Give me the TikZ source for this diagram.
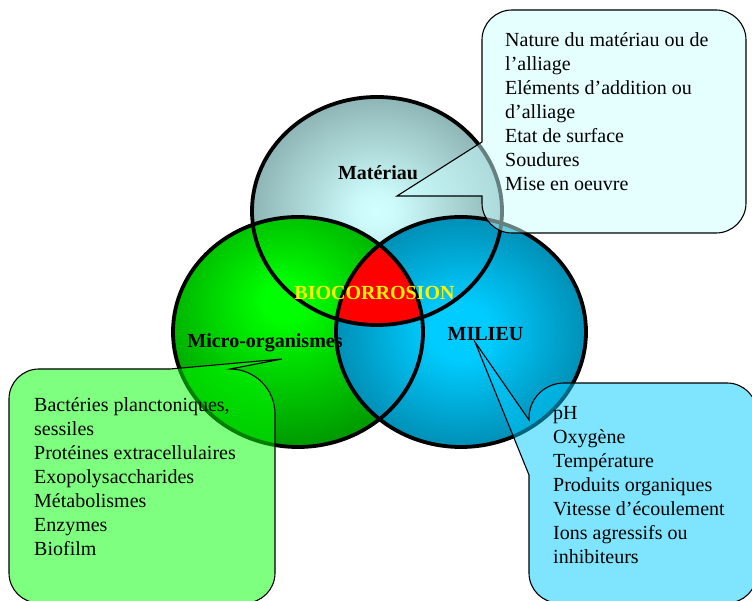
\documentclass[tikz,border=0pt]{standalone}
\usepackage{fontspec}
\setmainfont{Liberation Serif}
\pgfdeclareradialshading{matshade}{\pgfpoint{0bp}{0bp}}{rgb(0bp)=(0.82,1,1);rgb(4bp)=(0.80,0.98,0.98);rgb(50bp)=(0.27,0.39,0.39);rgb(100bp)=(0.27,0.39,0.39)}
\pgfdeclareradialshading{micshade}{\pgfpoint{-3bp}{7bp}}{rgb(0bp)=(0,1,0);rgb(4bp)=(0,1,0);rgb(50bp)=(0,0.29,0);rgb(100bp)=(0,0.29,0)}
\pgfdeclareradialshading{milshade}{\pgfpoint{0bp}{0bp}}{rgb(0bp)=(0,0.8,1);rgb(6bp)=(0,0.8,1);rgb(50bp)=(0,0.25,0.34);rgb(100bp)=(0,0.25,0.34)}
\definecolor{boxA}{HTML}{CCFFFF}
\definecolor{boxB}{HTML}{00FF00}
\definecolor{boxC}{HTML}{00CCFF}
\begin{document}
\begin{tikzpicture}[x=1pt,y=1pt,
  circ/.style={line width=3.8pt, draw=black},
  callout/.style={draw=black, line width=1.1pt, fill opacity=0.5},
  lbl/.style={font=\fontsize{20}{24}\selectfont\bfseries, inner sep=0pt, anchor=base},
  txt/.style={font=\fontsize{20}{24}\selectfont, inner sep=0pt, anchor=base west}]
\useasboundingbox (0,0) rectangle (752,601);
\clip (0,0) rectangle (752,601);
% circle fills
\path[shading=matshade] (377,390) ellipse [x radius=125pt, y radius=114pt];
\path[shading=micshade] (298,269) ellipse [x radius=125pt, y radius=115pt];
\path[shading=milshade] (461,269) ellipse [x radius=125pt, y radius=115pt];
\begin{scope}
  \clip (377,390) ellipse [x radius=125pt, y radius=114pt];
  \clip (298,269) ellipse [x radius=125pt, y radius=115pt];
  \fill[red] (461,269) ellipse [x radius=125pt, y radius=115pt];
\end{scope}
\draw[circ] (377,390) ellipse [x radius=125pt, y radius=114pt];
\draw[circ] (298,269) ellipse [x radius=125pt, y radius=115pt];
\draw[circ] (461,269) ellipse [x radius=125pt, y radius=115pt];
% tips
\coordinate (tipA) at (397,405);
\coordinate (tipB) at (282,242);
\coordinate (tipC) at (475,259);
% callouts
\path[callout, fill=boxA] (482,459) -- (482,561) arc (180:90:30pt) -- (716,591) arc (90:0:30pt)
  -- (746,398) arc (0:-90:30pt) -- (512,368) arc (270:180:30pt) -- (482,405) -- (tipA) -- cycle;
\path[callout, fill=boxB] (170,232) -- (tipB) -- (230,232) arc (90:0:45pt) -- (275,28) arc (0:-90:30pt)
  -- (39,-2) arc (270:180:30pt) -- (9,202) arc (180:90:30pt) -- cycle;
\path[callout, fill=boxC] (529,181) -- (tipC) -- (529,126) -- (529,28) arc (180:270:30pt) -- (727,-2)
  arc (270:360:30pt) -- (757,188) arc (0:90:30pt) -- (564,218) arc (90:180:35pt) -- cycle;
% labels
\node[lbl] (mat) at (378,421.7) {Matériau};
\node[lbl] (mic) at (265,253.3) {Micro-organismes};
\node[lbl] (mil) at (485.5,260) {MILIEU};
\node[lbl, text=yellow] (bio) at (374.5,301) {BIOCORROSION};
% texts
\foreach \t [count=\i] in {Nature du matériau ou de, l’alliage, Eléments d’addition ou, d’alliage, Etat de surface, Soudures, Mise en oeuvre}
  \node[txt] (ta\i) at (505,{554-24*(\i-1)}) {\t};
\foreach \t [count=\i] in {{Bactéries planctoniques,}, sessiles, Protéines extracellulaires, Exopolysaccharides, Métabolismes, Enzymes, Biofilm}
  \node[txt] (tb\i) at (34,{189.3-24*(\i-1)}) {\t};
\foreach \t [count=\i] in {pH, Oxygène, Température, Produits organiques, Vitesse d’écoulement, Ions agressifs ou, inhibiteurs}
  \node[txt] (tc\i) at (553,{181-24*(\i-1)}) {\t};
\end{tikzpicture}
\end{document}
